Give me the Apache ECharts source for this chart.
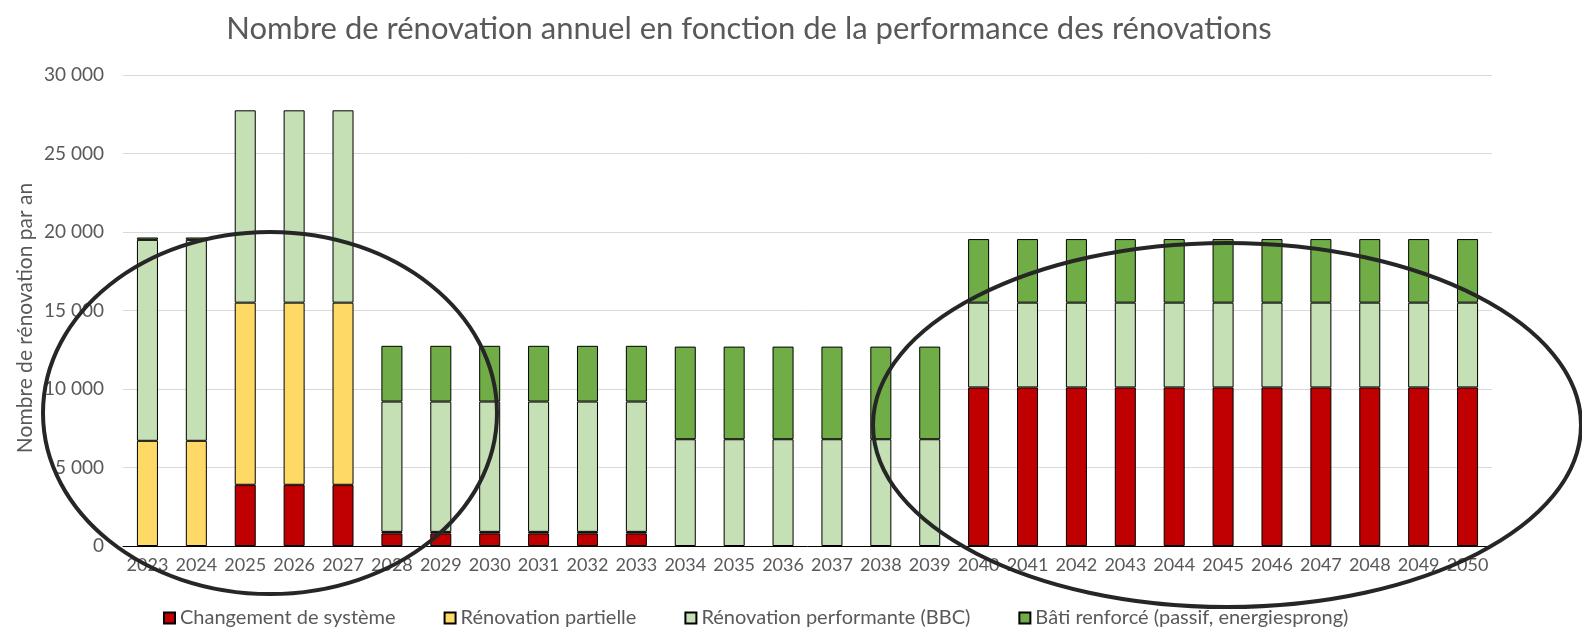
<!DOCTYPE html>
<html lang="fr">
<head>
    <meta charset="UTF-8">
    <title>Rénovations</title>
    <script src="https://cdn.jsdelivr.net/npm/echarts@6/dist/echarts.min.js"></script>
    <style>
        html, body { margin: 0; padding: 0; background: #fff; }
        #chart { width: 1582px; height: 633px; }
    </style>
</head>
<body>
    <div id="chart"></div>
<script>
    // années
    var years = ['2023','2024','2025','2026','2027','2028','2029','2030','2031','2032','2033','2034','2035','2036',
        '2037','2038','2039','2040','2041','2042','2043','2044','2045','2046','2047','2048','2049','2050'];

    // valeurs (nombre de rénovations par an)
    var changementSysteme = [null,null,3900,3900,3900,800,800,800,800,800,800,null,null,null,
        null,null,null,10100,10100,10100,10100,10100,10100,10100,10100,10100,10100,10100];
    var renovationPartielle = [6700,6700,11600,11600,11600,100,100,100,100,100,100,null,null,null,
        null,null,null,null,null,null,null,null,null,null,null,null,null,null];
    var renovationBBC = [12800,12800,12250,12250,12250,8300,8300,8300,8300,8300,8300,6800,6800,6800,
        6800,6800,6800,5400,5400,5400,5400,5400,5400,5400,5400,5400,5400,5400];
    var batiRenforce = [150,150,null,null,null,3550,3550,3550,3550,3550,3550,5900,5900,5900,
        5900,5900,5900,4050,4050,4050,4050,4050,4050,4050,4050,4050,4050,4050];

    var font = 'Lato, "Open Sans", sans-serif';
    var grey = '#595959';

    function fmt(v) {
        return String(v).replace(/\B(?=(\d{3})+(?!\d))/g, ' ');
    }

    function serie(name, data, color) {
        return {
            name: name,
            type: 'bar',
            stack: 'total',
            barWidth: '43%',
            data: data,
            itemStyle: { color: color, borderColor: '#000', borderWidth: 1 }
        };
    }

    var chart = echarts.init(document.getElementById('chart'));
    chart.setOption({
        animation: false,
        title: {
            text: 'Nombre de rénovation annuel en fonction de la performance des rénovations',
            left: 744,
            textAlign: 'center',
            top: 8,
            textStyle: { fontFamily: font, fontSize: 31, fontWeight: 'normal', color: grey }
        },
        legend: {
            bottom: 0,
            left: 158,
            itemWidth: 11,
            itemHeight: 11,
            itemGap: 48,
            icon: 'rect',
            textStyle: { fontFamily: font, fontSize: 20, color: grey }
        },
        grid: { left: 123, right: 90, top: 75, bottom: 87 },
        xAxis: {
            type: 'category',
            data: years,
            axisTick: { show: false },
            axisLine: { lineStyle: { color: '#000', width: 1 } },
            axisLabel: { fontFamily: font, fontSize: 18, color: grey, margin: 10, interval: 0 }
        },
        yAxis: {
            type: 'value',
            min: 0,
            max: 30000,
            interval: 5000,
            axisLine: { show: false },
            axisTick: { show: false },
            axisLabel: { fontFamily: font, fontSize: 19, color: grey, margin: 19, formatter: fmt },
            splitLine: { lineStyle: { color: '#d9d9d9', width: 1 } }
        },
        series: [
            serie('Changement de système', changementSysteme, '#C00000'),
            serie('Rénovation partielle', renovationPartielle, '#FFD966'),
            serie('Rénovation performante (BBC)', renovationBBC, '#C5E0B4'),
            serie('Bâti renforcé (passif, energiesprong)', batiRenforce, '#70AD47')
        ],
        graphic: [
            {
                // titre de l'axe vertical
                type: 'text',
                x: 25, y: 318,
                rotation: Math.PI / 2,
                style: {
                    text: 'Nombre de rénovation par an',
                    fontFamily: font, fontSize: 21, fill: grey,
                    align: 'center', verticalAlign: 'middle'
                }
            },
            {
                type: 'ellipse', z: 100,
                shape: { cx: 270, cy: 413, rx: 227, ry: 181 },
                style: { fill: null, stroke: '#262626', lineWidth: 4 }
            },
            {
                type: 'ellipse', z: 100,
                shape: { cx: 1227, cy: 425, rx: 354, ry: 182 },
                style: { fill: null, stroke: '#262626', lineWidth: 4 }
            }
        ]
    });
    window.onresize = chart.resize;
</script>
</body>
</html>
